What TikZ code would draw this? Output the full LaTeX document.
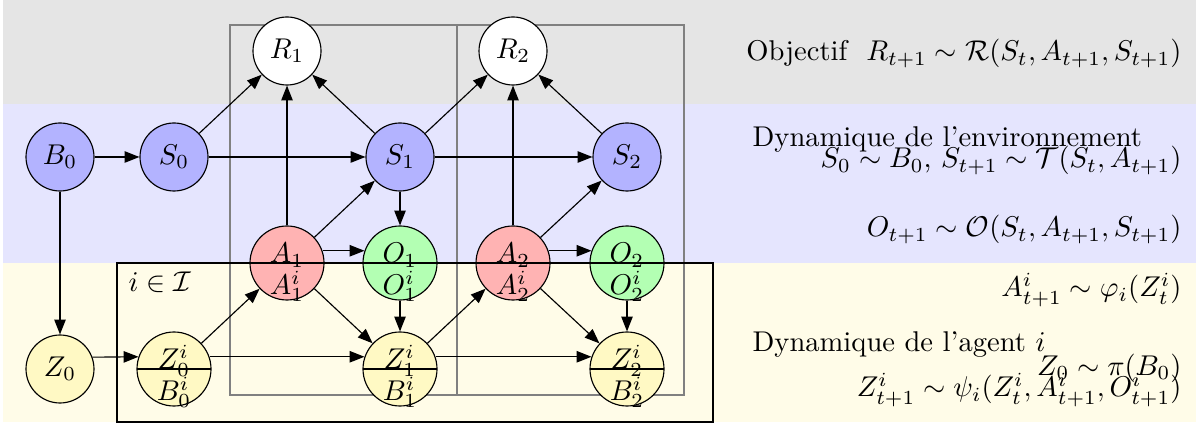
\documentclass[tikz,border=0pt]{standalone}
\usetikzlibrary{arrows.meta}
\definecolor{bandgray}{RGB}{229,229,229}
\definecolor{bandblue}{RGB}{229,229,254}
\definecolor{bandyellow}{RGB}{255,252,232}
\definecolor{nblue}{RGB}{179,179,255}
\definecolor{nred}{RGB}{255,179,179}
\definecolor{ngreen}{RGB}{179,255,179}
\definecolor{nyellow}{RGB}{255,249,196}
\newcommand\sptext[2]{\smash{\begin{tabular}[t]{@{}c@{}}$#1$\\[-1pt]$#2$\end{tabular}}}
\tikzset{
  plain/.style={circle, draw, minimum size=23.8pt, inner sep=0pt},
  splitnode/.style={circle, draw, minimum size=25.9pt, inner sep=0pt,
    path picture={\draw (path picture bounding box.west) -- (path picture bounding box.east);}},
  arr/.style={-{Triangle[length=5.2pt,width=4pt]}},
  plate/.style={draw=black!50, line width=0.5pt},
  bplate/.style={draw=black, line width=0.55pt},
  rtext/.style={anchor=base east, inner sep=0pt},
  ltext/.style={anchor=base west, inner sep=0pt},
}
\begin{document}
\begin{tikzpicture}[x=0.35pt, y=-0.35pt]
\useasboundingbox (0,0) rectangle (1196,428);
% bands
\fill[bandgray] (3,0) rectangle (1196,104);
\fill[bandblue] (3,104) rectangle (1196,263);
\fill[bandyellow] (3,263) rectangle (1196,422);
% plates
\draw[plate] (230,25) rectangle (457,395);
\draw[plate] (457,25) rectangle (684,395);
\draw[bplate] (117,263) rectangle (713,422);
\node[ltext] (iI) at (128,292) {$i\in\mathcal{I}$};
% nodes
\node[plain, fill=white] (R1) at (287,51) {$R_1$};
\node[plain, fill=white] (R2) at (513,51) {$R_2$};
\node[plain, fill=nblue] (B0) at (60,157) {$B_0$};
\node[plain, fill=nblue] (S0) at (174,157) {$S_0$};
\node[plain, fill=nblue] (S1) at (400,157) {$S_1$};
\node[plain, fill=nblue] (S2) at (627,157) {$S_2$};
\node[splitnode, fill=nred] (A1) at (287,263) {\sptext{A_1}{A^i_1}};
\node[splitnode, fill=ngreen] (O1) at (400,263) {\sptext{O_1}{O^i_1}};
\node[splitnode, fill=nred] (A2) at (513,263) {\sptext{A_2}{A^i_2}};
\node[splitnode, fill=ngreen] (O2) at (627,263) {\sptext{O_2}{O^i_2}};
\node[plain, fill=nyellow] (Z0) at (60,369) {$Z_0$};
\node[splitnode, fill=nyellow] (Z0i) at (174,369) {\sptext{Z^i_0}{B^i_0}};
\node[splitnode, fill=nyellow] (Z1) at (400,369) {\sptext{Z^i_1}{B^i_1}};
\node[splitnode, fill=nyellow] (Z2) at (627,369) {\sptext{Z^i_2}{B^i_2}};
% arrows
\draw[arr] (B0) -- (S0);
\draw[arr] (B0) -- (Z0);
\draw[arr] (S0) -- (R1);
\draw[arr] (S0) -- (S1);
\draw[arr] (A1) -- (R1);
\draw[arr] (S1) -- (R1);
\draw[arr] (S1) -- (R2);
\draw[arr] (S1) -- (S2);
\draw[arr] (S1) -- (O1);
\draw[arr] (A1) -- (S1);
\draw[arr] (A1.19) -- (O1.161);
\draw[arr] (A1) -- (Z1);
\draw[arr] (O1) -- (Z1);
\draw[arr] (Z0.20) -- (Z0i.161);
\draw[arr] (Z0i) -- (A1);
\draw[arr] (Z0i.19) -- (Z1.161);
\draw[arr] (A2) -- (R2);
\draw[arr] (S2) -- (R2);
\draw[arr] (A2) -- (S2);
\draw[arr] (A2.19) -- (O2.161);
\draw[arr] (A2) -- (Z2);
\draw[arr] (O2) -- (Z2);
\draw[arr] (Z1) -- (A2);
\draw[arr] (Z1.19) -- (Z2.161);
% right texts
\node[rtext] (t1) at (1182,61) {Objectif\ \ $R_{t+1}\sim\mathcal{R}(S_t,A_{t+1},S_{t+1})$};
\node[ltext] (t2) at (752,147) {Dynamique de l’environnement};
\node[rtext] (t3) at (1182,168) {$S_0\sim B_0$, $S_{t+1}\sim\mathcal{T}(S_t,A_{t+1})$};
\node[rtext] (t4) at (1182,237) {$O_{t+1}\sim\mathcal{O}(S_t,A_{t+1},S_{t+1})$};
\node[rtext] (t5) at (1182,297) {$A^i_{t+1}\sim\varphi_i(Z^i_t)$};
\node[ltext] (t6) at (752,352) {Dynamique de l’agent $i$};
\node[rtext] (t7) at (1182,375) {$Z_0\sim\pi(B_0)$};
\node[rtext] (t8) at (1182,397) {$Z^i_{t+1}\sim\psi_i(Z^i_t,A^i_{t+1},O^i_{t+1})$};
\end{tikzpicture}
\end{document}
